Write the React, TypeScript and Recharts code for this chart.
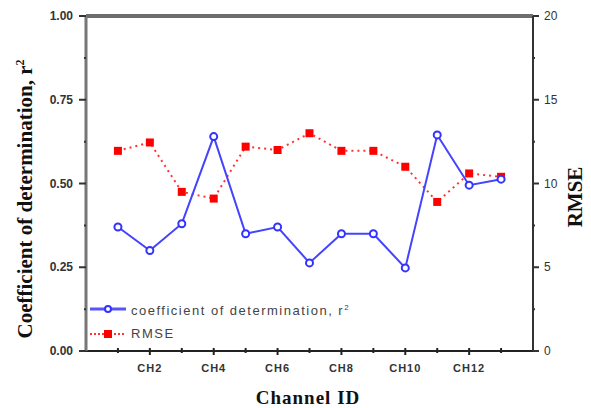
import React from "react";
import { LineChart, Line, XAxis, YAxis, Legend, ReferenceLine } from "recharts";

const channels = [1, 2, 3, 4, 5, 6, 7, 8, 9, 10, 11, 12, 13];
const r2Values = [0.37, 0.3, 0.38, 0.64, 0.35, 0.37, 0.263, 0.35, 0.35, 0.248, 0.645, 0.495, 0.513];
const rmseValues = [11.95, 12.45, 9.5, 9.1, 12.2, 12.0, 13.0, 11.95, 11.95, 11.0, 8.9, 10.6, 10.4];
const xTicks = [1, 2, 3, 4, 5, 6, 7, 8, 9, 10, 11, 12, 13];
const leftTicks = [0, 0.125, 0.25, 0.375, 0.5, 0.625, 0.75, 0.875, 1];
const rightTicks = [0, 2.5, 5, 7.5, 10, 12.5, 15, 17.5, 20];

const data = channels.map((c, i) => ({ ch: c, r2: r2Values[i], rmse: rmseValues[i] }));

const sans = "'Liberation Sans', Arial, sans-serif";
const serif = "'Liberation Serif', 'Times New Roman', serif";

const XTick = (props: any) => {
  const { x, y, payload } = props;
  const major = payload.value % 2 === 0;
  return (
    <g>
      <line x1={x} x2={x} y1={y - 3} y2={y + (major ? 4 : 2)} stroke="#222" strokeWidth={2} />
      {major && (
        <text x={x} y={y + 21} textAnchor="middle" fontFamily={sans} fontSize={11} fontWeight={600} letterSpacing={1} fill="#333">
          {"CH" + payload.value}
        </text>
      )}
    </g>
  );
};

const LeftTick = (props: any) => {
  const { x, y, payload } = props;
  const major = Math.abs(payload.value * 4 - Math.round(payload.value * 4)) < 1e-6;
  return (
    <g>
      <line x1={major ? x - 7 : x - 2} x2={x} y1={y} y2={y} stroke="#333" strokeWidth={2} />
      {major && (
        <text x={x - 13} y={y + 4} textAnchor="end" fontFamily={sans} fontSize={12} fontWeight={700} fill="#333">
          {payload.value.toFixed(2)}
        </text>
      )}
    </g>
  );
};

const RightTick = (props: any) => {
  const { x, y, payload } = props;
  const major = payload.value % 5 === 0;
  return (
    <g>
      <line x1={x} x2={major ? x + 6 : x + 2} y1={y} y2={y} stroke="#333" strokeWidth={2} />
      {major && (
        <text x={x + 11} y={y + 4} textAnchor="start" fontFamily={sans} fontSize={12} fill="#333">
          {payload.value}
        </text>
      )}
    </g>
  );
};

const SquareDot = (props: any) => {
  const { cx, cy, index } = props;
  return <rect key={"sq" + index} x={cx - 4} y={cy - 4} width={8} height={8} fill="#ff0000" />;
};

const LegendBox = () => (
  <div style={{ fontFamily: sans, fontSize: 13, color: "#444", lineHeight: "23px" }}>
    <div style={{ display: "flex", alignItems: "center" }}>
      <svg width={43} height={10}>
        <line x1={2} x2={38} y1={5} y2={5} stroke="#5555ff" strokeWidth={3} />
        <circle cx={20} cy={5} r={3} fill="#fff" stroke="#3333ff" strokeWidth={2} />
      </svg>
      <span style={{ letterSpacing: 1.5 }}>
        coefficient of determination, r<sup style={{ fontSize: 8 }}>2</sup>
      </span>
    </div>
    <div style={{ display: "flex", alignItems: "center" }}>
      <svg width={43} height={10}>
        <line x1={2} x2={38} y1={5} y2={5} stroke="#ff3333" strokeWidth={2} strokeDasharray="2 2" />
        <rect x={16} y={1} width={8} height={8} fill="#ff0000" />
      </svg>
      <span style={{ letterSpacing: 1.5 }}>RMSE</span>
    </div>
  </div>
);

export default function App() {
  return (
    <div style={{ position: "fixed", left: 0, top: 0, width: 591, height: 408, background: "#fff" }}>
      <LineChart width={591} height={408} data={data} margin={{ top: 16, right: 0, left: 0, bottom: 0 }}>
        <XAxis
          dataKey="ch"
          type="number"
          domain={[0, 14]}
          ticks={xTicks}
          interval={0}
          height={57}
          tickSize={0}
          tickMargin={0}
          axisLine={{ stroke: "#222", strokeWidth: 2 }}
          tickLine={false}
          tick={<XTick />}
          label={{
            content: () => (
              <text x={308} y={404} textAnchor="middle" fontFamily={serif} fontSize={19} fontWeight={700} fill="#111" letterSpacing={1}>
                Channel ID
              </text>
            ),
          }}
        />
        <YAxis
          yAxisId="left"
          domain={[0, 1]}
          ticks={leftTicks}
          interval={0}
          width={86}
          tickSize={0}
          tickMargin={0}
          axisLine={{ stroke: "#777", strokeWidth: 3 }}
          tickLine={false}
          tick={<LeftTick />}
          label={{
            content: () => (
              <text x={32} y={199} transform="rotate(-90, 32, 199)" textAnchor="middle" fontFamily={serif} fontSize={21} fontWeight={700} fill="#111">
                Coefficient of determination, r
                <tspan dy={-8} fontSize={12}>2</tspan>
              </text>
            ),
          }}
        />
        <YAxis
          yAxisId="right"
          orientation="right"
          domain={[0, 20]}
          ticks={rightTicks}
          interval={0}
          width={58}
          tickSize={0}
          tickMargin={0}
          axisLine={{ stroke: "#333", strokeWidth: 2 }}
          tickLine={false}
          tick={<RightTick />}
          label={{
            content: () => (
              <text x={582} y={197} transform="rotate(-90, 582, 197)" textAnchor="middle" fontFamily={serif} fontSize={21} fontWeight={700} fill="#111">
                RMSE
              </text>
            ),
          }}
        />
        <ReferenceLine yAxisId="left" y={1} stroke="#6e6e6e" strokeWidth={4} />
        <Legend
          layout="vertical"
          verticalAlign="middle"
          align="center"
          wrapperStyle={{ position: "absolute", left: 88, top: 296, width: 320 }}
          content={<LegendBox />}
        />
        <Line
          yAxisId="right"
          dataKey="rmse"
          type="linear"
          stroke="#ff3333"
          strokeWidth={2}
          strokeDasharray="2 4"
          dot={<SquareDot />}
          isAnimationActive={false}
        />
        <Line
          yAxisId="left"
          dataKey="r2"
          type="linear"
          stroke="#4444ff"
          strokeWidth={2}
          dot={{ r: 3.5, fill: "#fff", stroke: "#3333ff", strokeWidth: 2 }}
          isAnimationActive={false}
        />
      </LineChart>
    </div>
  );
}
